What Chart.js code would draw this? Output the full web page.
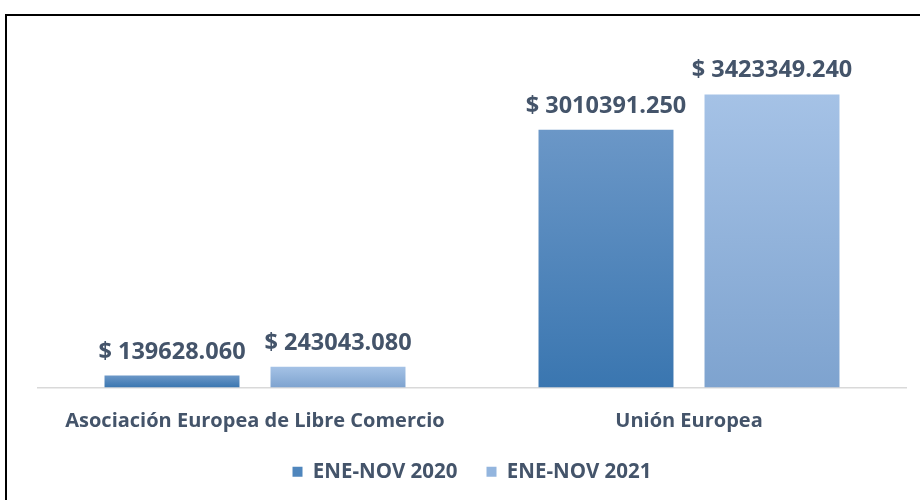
<!DOCTYPE html>
<html>
<head>
<meta charset="utf-8">
<script src="https://cdn.jsdelivr.net/npm/chart.js@4.4.1/dist/chart.umd.min.js"></script>
<style>
  html, body { margin: 0; padding: 0; background: #fff; overflow: hidden; }
  #frame { position: absolute; left: 5px; top: 14px; width: 930px; height: 500px; border: 2px solid #000; }
  #wrap { position: absolute; left: 0; top: 0; width: 920px; height: 492px; }
</style>
</head>
<body>
<div id="frame"></div>
<div id="wrap"><canvas id="chart"></canvas></div>
<script>
// data
const categories = ['Asociación Europea de Libre Comercio', 'Unión Europea'];
const seriesNames = ['ENE-NOV 2020', 'ENE-NOV 2021'];
const values2020 = [139628.060, 3010391.250];
const values2021 = [243043.080, 3423349.240];

const textColor = '#44546a';
const fontFamily = '"Open Sans", sans-serif';

// gradient top/bottom for each series
const gradients = [
  ['#6b97c7', '#3a76b0'],
  ['#a5c2e6', '#7ea3cf']
];

function barGradient(context, i) {
  const chart = context.chart;
  const area = chart.chartArea;
  if (!area || context.raw == null) return gradients[i][1];
  const y = chart.scales.y;
  const top = y.getPixelForValue(context.raw);
  const base = y.getPixelForValue(0);
  const g = chart.ctx.createLinearGradient(0, top, 0, base);
  g.addColorStop(0, gradients[i][0]);
  g.addColorStop(1, gradients[i][1]);
  return g;
}

// draws "$ 123.456" above each bar
const valueLabels = {
  id: 'valueLabels',
  afterDatasetsDraw(chart) {
    const ctx = chart.ctx;
    ctx.save();
    ctx.font = 'bold 23.5px ' + fontFamily;
    ctx.fillStyle = textColor;
    ctx.textAlign = 'center';
    ctx.textBaseline = 'alphabetic';
    chart.data.datasets.forEach((ds, di) => {
      chart.getDatasetMeta(di).data.forEach((bar, i) => {
        ctx.fillText('$ ' + ds.data[i].toFixed(3), bar.x, bar.y - 17);
      });
    });
    ctx.restore();
  }
};

new Chart(document.getElementById('chart'), {
  type: 'bar',
  data: {
    labels: categories,
    datasets: [
      {
        label: seriesNames[0],
        data: values2020,
        backgroundColor: ctx => barGradient(ctx, 0),
        categoryPercentage: 0.765,
        barPercentage: 0.813
      },
      {
        label: seriesNames[1],
        data: values2021,
        backgroundColor: ctx => barGradient(ctx, 1),
        categoryPercentage: 0.765,
        barPercentage: 0.813
      }
    ]
  },
  options: {
    responsive: true,
    maintainAspectRatio: false,
    animation: false,
    layout: { padding: { left: 38, right: 14, top: 45, bottom: 0 } },
    scales: {
      x: {
        grid: { display: false },
        border: { color: '#d9d9d9', width: 1.5 },
        ticks: {
          color: textColor,
          padding: 15,
          font: { family: fontFamily, size: 20, weight: 'bold', lineHeight: 1.1 }
        },
        afterFit(scale) {
          scale.height = 45; // keep the axis line where the reference has it
        }
      },
      y: {
        display: false,
        min: 0,
        max: 4000000
      }
    },
    plugins: {
      tooltip: { enabled: false },
      legend: {
        position: 'bottom',
        labels: {
          color: textColor,
          boxWidth: 10,
          boxHeight: 10,
          padding: 29,
          font: { family: fontFamily, size: 20.5, weight: 'bold' },
          generateLabels(chart) {
            return chart.data.datasets.map((ds, i) => ({
              text: ds.label,
              fillStyle: i === 0 ? '#4f86bd' : '#93b5de',
              strokeStyle: 'rgba(0,0,0,0)',
              lineWidth: 0,
              fontColor: textColor,
              datasetIndex: i
            }));
          }
        }
      }
    }
  },
  plugins: [valueLabels]
});
</script>
</body>
</html>
